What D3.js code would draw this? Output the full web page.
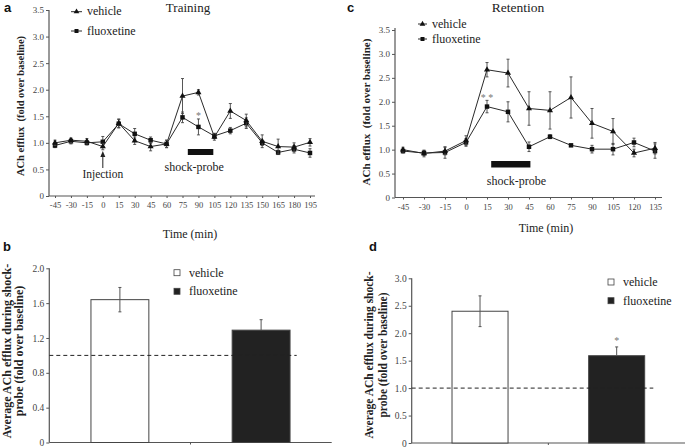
<!DOCTYPE html>
<html><head><meta charset="utf-8">
<script src="https://cdn.jsdelivr.net/npm/d3@7"></script>
<style>body{margin:0;background:#fff}svg{display:block}
.serif{font-family:"Liberation Serif","Times New Roman",Times,serif}
</style>
</head><body>
<svg id="c" width="685" height="448"></svg>
<script>
// ---------- DATA ----------
const timesA = [-45,-30,-15,0,15,30,45,60,75,90,105,120,135,150,165,180,195];
const vehicleA = [1.00,1.05,1.03,0.93,1.37,1.04,0.93,0.98,1.88,1.95,1.11,1.60,1.42,1.03,0.93,0.92,1.01];
const vehicleAErr = [0.05,0.04,0.05,0.06,0.08,0.07,0.08,0.07,0.33,0.05,0.06,0.14,0.12,0.12,0.14,0.08,0.07];
const fluoxA = [0.95,1.03,1.00,1.02,1.36,1.17,1.05,0.98,1.48,1.30,1.13,1.23,1.37,1.00,0.82,0.88,0.81];
const fluoxAErr = [0.04,0.05,0.04,0.10,0.08,0.10,0.06,0.07,0.10,0.15,0.05,0.06,0.10,0.05,0.04,0.07,0.08];

const timesC = [-45,-30,-15,0,15,30,45,60,75,90,105,120,135];
const vehicleC = [1.00,0.92,0.97,1.19,2.67,2.60,1.86,1.82,2.09,1.55,1.38,0.93,1.03];
const vehicleCErr = [0.05,0.07,0.08,0.10,0.15,0.29,0.35,0.39,0.43,0.31,0.27,0.08,0.12];
const fluoxC = [0.97,0.93,0.94,1.15,1.90,1.79,1.06,1.27,1.09,1.01,1.01,1.15,0.97];
const fluoxCErr = [0.04,0.05,0.12,0.08,0.13,0.21,0.10,0.04,0.02,0.08,0.12,0.09,0.15];

const groups = ["vehicle","fluoxetine"];
const barB = [1.64,1.29];
const barBErr = [0.14,0.12];
const barD = [2.40,1.59];
const barDErr = [0.28,0.16];

const yTicksLine = [0,0.5,1.0,1.5,2.0,2.5,3.0,3.5];
const yTicksB = [0,0.4,0.8,1.2,1.6,2.0];
const yTicksD = [0,0.5,1.0,1.5,2.0,2.5,3.0];

// ---------- DRAW ----------
const svg = d3.select("#c");
const SANS = "Liberation Sans, Arial, sans-serif";
const LC = "#2a2a2a";
const fmt = v => v === 0 ? "0" : d3.format(".1f")(v);

function stext(g,x,y,t,fs,opts={}){
  const e = g.append("text").attr("class","serif").attr("x",x).attr("y",y).attr("font-size",fs)
    .attr("fill",opts.fill||"#222").attr("text-anchor",opts.anchor||"start").text(t);
  if(opts.bold) e.attr("font-weight","bold");
  return e;
}
function letter(x,y,t){
  svg.append("text").attr("x",x).attr("y",y).style("font-family",SANS).attr("font-weight","bold")
    .attr("font-size",13).attr("fill","#111").text(t);
}
function yAxis(g, scale, ticks, x, top, fs){
  const ax = d3.axisLeft(scale).tickValues(ticks).tickFormat(fmt).tickSize(3).tickSizeOuter(0).tickPadding(2);
  const a = g.append("g").attr("transform",`translate(${x},0)`).call(ax);
  a.attr("font-family",null);
  a.select(".domain").remove();
  a.selectAll("line").attr("stroke","#555");
  a.selectAll("text").attr("class","serif").attr("font-size",fs).attr("fill","#444");
  g.append("line").attr("x1",x).attr("x2",x).attr("y1",scale(0)).attr("y2",top).attr("stroke","#555").attr("stroke-width",1.2);
}
function xAxisLine(g, scale, ticks, y, x0, x1){
  const ax = d3.axisBottom(scale).tickValues(ticks).tickFormat(d=>String(d)).tickSize(2).tickSizeOuter(0).tickPadding(4);
  const a = g.append("g").attr("transform",`translate(0,${y})`).call(ax);
  a.attr("font-family",null);
  a.select(".domain").remove();
  a.selectAll("line").attr("stroke","#555");
  a.selectAll("text").attr("class","serif").attr("font-size",8.5).attr("fill","#444");
  g.append("line").attr("x1",x0).attr("x2",x1).attr("y1",y).attr("y2",y).attr("stroke","#555").attr("stroke-width",1.2);
}
function rotLabel(x,y,t,fs){
  svg.append("text").attr("class","serif").attr("transform",`translate(${x},${y}) rotate(-90)`).attr("text-anchor","middle")
    .style("white-space","pre").attr("font-weight","bold").attr("font-size",fs).attr("fill","#222").text(t);
}
function series(g, x, y, times, vals, errs, shape){
  const pts = times.map((t,i)=>({t,v:vals[i],e:errs[i]}));
  g.append("path").datum(pts).attr("fill","none").attr("stroke",LC).attr("stroke-width",1)
    .attr("d", d3.line().x(d=>x(d.t)).y(d=>y(d.v)));
  const eb = g.append("g").attr("stroke","#444").attr("stroke-width",0.9);
  pts.forEach(d=>{
    const cx=x(d.t), y1=y(d.v+d.e), y2=y(d.v-d.e);
    eb.append("line").attr("x1",cx).attr("x2",cx).attr("y1",y1).attr("y2",y2);
    eb.append("line").attr("x1",cx-1.5).attr("x2",cx+1.5).attr("y1",y1).attr("y2",y1);
    eb.append("line").attr("x1",cx-1.5).attr("x2",cx+1.5).attr("y1",y2).attr("y2",y2);
  });
  const sym = d3.symbol().type(shape==="tri"?d3.symbolTriangle:d3.symbolSquare).size(shape==="tri"?16:20);
  g.selectAll(null).data(pts).enter().append("path").attr("d",sym)
    .attr("transform",d=>`translate(${x(d.t)},${y(d.v)})`).attr("fill","#111");
}
function lineLegend(g, x0, x1, y, shape, label, fs){
  g.append("line").attr("x1",x0).attr("x2",x1).attr("y1",y).attr("y2",y).attr("stroke",LC);
  g.append("path").attr("d",d3.symbol().type(shape==="tri"?d3.symbolTriangle:d3.symbolSquare).size(shape==="tri"?14:16))
    .attr("transform",`translate(${(x0+x1)/2},${y})`).attr("fill","#111");
  stext(g,x1+5,y+3.5,label,fs);
}

// ===== Panel a =====
{
  const g = svg.append("g");
  const x = d3.scaleLinear().domain([-45,195]).range([55,310]);
  const y = d3.scaleLinear().domain([0,3.5]).range([196,10]);
  yAxis(g,y,yTicksLine,49,10,9);
  xAxisLine(g,x,timesA,196,49,315);
  series(g,x,y,timesA,fluoxA,fluoxAErr,"sq");
  series(g,x,y,timesA,vehicleA,vehicleAErr,"tri");
  letter(4,12,"a");
  stext(g,188,12,"Training",13,{anchor:"middle"});
  lineLegend(g,71,82,11.7,"tri","vehicle",12);
  lineLegend(g,71,82,31,"sq","fluoxetine",12);
  rotLabel(24,106,"ACh efflux  (fold over baseline)",10.5);
  stext(g,190,238,"Time (min)",12,{anchor:"middle"});
  const ix = x(0);
  g.append("line").attr("x1",ix).attr("x2",ix).attr("y1",156).attr("y2",168).attr("stroke","#222");
  g.append("path").attr("d",`M${ix},151 L${ix-2.5},157 L${ix+2.5},157 Z`).attr("fill","#222");
  stext(g,ix,178,"Injection",11.5,{anchor:"middle"});
  g.append("rect").attr("x",x(80)).attr("y",149).attr("width",x(104)-x(80)).attr("height",6).attr("fill","#111");
  stext(g,x(86),171,"shock-probe",12,{anchor:"middle"});
  stext(g,x(90),119,"*",10,{anchor:"middle",fill:"#777"});
}

// ===== Panel c =====
{
  const g = svg.append("g");
  const x = d3.scaleLinear().domain([-45,135]).range([403,655]);
  const y = d3.scaleLinear().domain([0,3.5]).range([197.5,30]);
  yAxis(g,y,yTicksLine,395,28,9);
  xAxisLine(g,x,timesC,197.5,395,662);
  series(g,x,y,timesC,fluoxC,fluoxCErr,"sq");
  series(g,x,y,timesC,vehicleC,vehicleCErr,"tri");
  letter(347,12,"c");
  stext(g,518,12,"Retention",13.5,{anchor:"middle"});
  lineLegend(g,418,427,24,"tri","vehicle",12);
  lineLegend(g,418,427,39,"sq","fluoxetine",12);
  rotLabel(370,112,"ACh efflux  (fold over baseline)",11);
  stext(g,546,232,"Time (min)",12,{anchor:"middle"});
  g.append("rect").attr("x",x(18)).attr("y",161).attr("width",x(46)-x(18)).attr("height",6.5).attr("fill","#111");
  stext(g,x(36),185,"shock-probe",12,{anchor:"middle"});
  stext(g,x(15),101,"* *",10,{anchor:"middle",fill:"#777"});
}

function barPanel(x0,x1,yBot,yTop,vals,errs,ticks,dashEnd,legX,legY,fs,letterXY,labXs,labY,lfs,star){
  const g = svg.append("g");
  const y = d3.scaleLinear().domain([0,ticks[ticks.length-1]]).range([yBot,yTop]);
  const x = d3.scaleBand().domain(groups).range([x0,x1]).paddingInner(0.59).paddingOuter(0.295);
  yAxis(g,y,ticks,x0,yTop,fs);
  g.append("line").attr("x1",x0).attr("x2",x1).attr("y1",yBot).attr("y2",yBot).attr("stroke","#555").attr("stroke-width",1.2);
  const mid = x0 + x.step();
  g.append("line").attr("x1",mid).attr("x2",mid).attr("y1",yBot).attr("y2",yBot+2).attr("stroke","#555");
  groups.forEach((k,i)=>{
    g.append("rect").attr("x",x(k)).attr("y",y(vals[i])).attr("width",x.bandwidth()).attr("height",yBot-y(vals[i]))
      .attr("fill",i===0?"#fff":"#222").attr("stroke","#444").attr("stroke-width",1);
    const cx = x(k)+x.bandwidth()/2;
    const lo = i===0? vals[i]-errs[i] : vals[i];
    g.append("line").attr("x1",cx).attr("x2",cx).attr("y1",y(vals[i]+errs[i])).attr("y2",y(lo)).attr("stroke","#555");
    g.append("line").attr("x1",cx-1.5).attr("x2",cx+1.5).attr("y1",y(vals[i]+errs[i])).attr("y2",y(vals[i]+errs[i])).attr("stroke","#555");
    if(i===0) g.append("line").attr("x1",cx-1.5).attr("x2",cx+1.5).attr("y1",y(lo)).attr("y2",y(lo)).attr("stroke","#555");
    if(i===1 && star) stext(g,cx,y(vals[i]+errs[i])-3,"*",10,{anchor:"middle",fill:"#777"});
  });
  g.append("line").attr("x1",x0).attr("x2",dashEnd).attr("y1",y(1)).attr("y2",y(1))
    .attr("stroke","#222").attr("stroke-width",1).attr("stroke-dasharray","4,3");
  groups.forEach((k,i)=>{
    const ly = legY[i];
    g.append("rect").attr("x",legX-3).attr("y",ly-3).attr("width",6).attr("height",6)
      .attr("fill",i===0?"#fff":"#222").attr("stroke","#444").attr("stroke-width",0.8);
    stext(g,legX+12,ly+4,k,12);
  });
  letter(letterXY[0],letterXY[1],letterXY[2]);
  rotLabel(labXs[0],labY,"Average ACh efflux during shock-",lfs);
  rotLabel(labXs[1],labY,"probe (fold over baseline)",lfs);
}
barPanel(49.3,331.7,442.5,268.3,barB,barBErr,yTicksB,296.7,177,[272.7,291.3],9.5,[3,251,"b"],[11,23],351,12,false);
barPanel(411.7,685,443,278.3,barD,barDErr,yTicksD,653.3,611,[282,300.7],9.5,[369,251,"d"],[373,386.5],355,11.5,true);
</script>
</body></html>
